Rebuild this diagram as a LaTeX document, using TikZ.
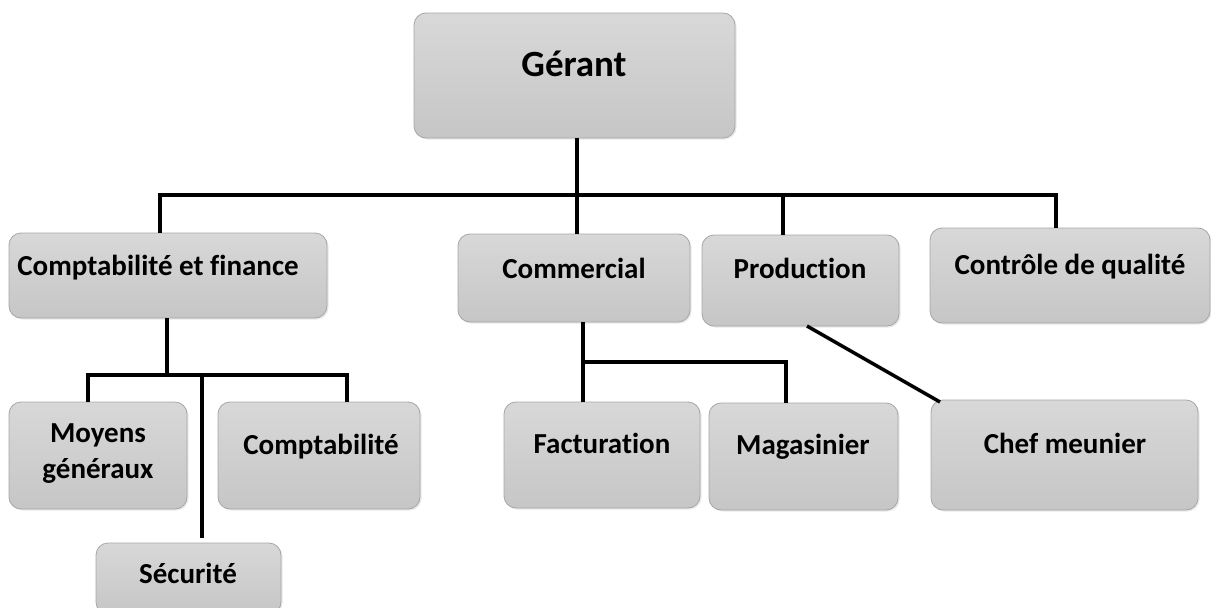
\documentclass[tikz,border=0pt]{standalone}
\usepackage{fontspec}
\setmainfont{Carlito}[Ligatures=NoCommon]
\usetikzlibrary{shadows}
\definecolor{boxtop}{HTML}{D8D8D8}
\definecolor{boxbot}{HTML}{C6C6C6}
\definecolor{boxline}{HTML}{A6A6A6}
\tikzset{
  orgbox/.style={rectangle, rounded corners=12pt, draw=boxline, line width=0.8pt,
    top color=boxtop, bottom color=boxbot, inner sep=0pt,
    drop shadow={opacity=0.18, shadow xshift=1.5pt, shadow yshift=-1.5pt}},
  orglabel/.style={font=\fontsize{29}{36}\selectfont\bfseries, align=center,
    inner sep=0pt, anchor=base},
  biglabel/.style={orglabel, font=\fontsize{37}{44}\selectfont\bfseries},
  link/.style={line width=3.5pt, line join=miter, line cap=butt},
}
% \orgunit{name}{x1}{y1}{x2}{y2}{label x}{label baseline}{label style}{text}
\newcommand\orgunit[9]{%
  \node[orgbox, minimum width={#4-#2}, minimum height={#5-#3}]
    (#1) at ({(#2+#4)/2},{(#3+#5)/2}) {};
  \node[#8] (#1-t) at (#6,#7) {#9};
}
\begin{document}
\begin{tikzpicture}[x=1pt, y=-1pt]
  \useasboundingbox (0,0) rectangle (1211,608);

  % units
  \orgunit{g}{414}{13}{735}{138}{574}{76}{biglabel}{Gérant}
  \orgunit{cf}{9}{233}{327}{318}{158}{275}{orglabel}{Comptabilité et finance}
  \orgunit{com}{458}{234}{690}{322}{574}{278}{orglabel}{Commercial}
  \orgunit{prod}{702}{235}{899}{326}{800}{278}{orglabel}{Production}
  \orgunit{cq}{930}{228}{1210}{323}{1070}{274}{orglabel}{Contrôle de qualité}
  % base anchor of a two-line label sits on its last line
  \orgunit{mg}{9}{402}{187}{509}{98}{478}{orglabel}{Moyens\\généraux}
  \orgunit{cpt}{218}{402}{420}{509}{321}{454}{orglabel}{Comptabilité}
  \orgunit{sec}{96}{543}{281}{614}{188}{583}{orglabel}{Sécurité}
  \orgunit{fac}{504}{402}{700}{508}{602}{453}{orglabel}{Facturation}
  \orgunit{mag}{709}{403}{898}{510}{803}{454}{orglabel}{Magasinier}
  \orgunit{chef}{931}{400}{1198}{510}{1065}{453}{orglabel}{Chef meunier}

  % top-level bus
  \coordinate (b1) at (160,195);
  \coordinate (b2) at (577,195);
  \coordinate (b3) at (783,195);
  \coordinate (b4) at (1056,195);
  \draw[link] (b2 |- g.south) -- (b2 |- com.north);
  \draw[link] (b1 |- cf.north) -- (b1) -- (b4) -- (b4 |- cq.north);
  \draw[link] (b3) -- (b3 |- prod.north);

  % finance branch
  \coordinate (c0) at (167,375);
  \coordinate (c1) at (88,375);
  \coordinate (c2) at (347,375);
  \coordinate (c3) at (202,375);
  \draw[link] (c0 |- cf.south) -- (c0);
  \draw[link] (c1 |- mg.north) -- (c1) -- (c2) -- (c2 |- cpt.north);
  \draw[link, shorten >=5pt] (c3) -- (c3 |- sec.north);

  % commercial branch
  \coordinate (m0) at (583,362);
  \coordinate (m1) at (786,362);
  \draw[link] (m0 |- com.south) -- (m0 |- fac.north);
  \draw[link] (m0) -- (m1) -- (m1 |- mag.north);

  % production branch
  \coordinate (p0) at (807,326);
  \coordinate (p1) at (940,402);
  \draw[link] (p0) -- (p1);
\end{tikzpicture}
\end{document}
